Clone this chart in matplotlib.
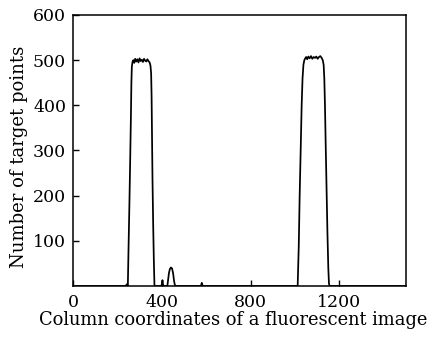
import matplotlib
matplotlib.use("Agg")
import matplotlib.pyplot as plt

# Column coordinate vs number of target points
col_x = [0, 236, 240, 243, 245, 247, 250, 254, 258, 261, 263, 265, 268, 272,
         276, 280, 285, 290, 295, 300, 305, 310, 315, 320, 325, 330, 335, 340,
         345, 349, 352, 354, 356, 358, 361, 364, 367, 370, 398, 401, 403, 405,
         408, 425, 428, 432, 436, 441, 446, 451, 455, 458, 461, 463, 575, 578,
         580, 582, 584, 600, 1012, 1017, 1021, 1026, 1030, 1034, 1038, 1042,
         1046, 1050, 1055, 1060, 1066, 1072, 1078, 1084, 1090, 1096, 1102,
         1108, 1114, 1120, 1125, 1129, 1132, 1135, 1138, 1142, 1146, 1150,
         1153, 1156, 1500]
count_y = [0, 0, 2, 4, 2, 0, 80, 180, 290, 380, 450, 485, 496, 500,
           494, 503, 497, 502, 495, 504, 498, 501, 496, 503, 499, 497, 502, 498,
           495, 488, 470, 420, 330, 240, 140, 60, 0, 0, 0, 6, 13, 4,
           0, 0, 12, 28, 37, 41, 39, 28, 12, 4, 0, 0, 0, 3,
           7, 4, 0, 0, 0, 90, 200, 310, 400, 460, 490, 500,
           504, 507, 502, 508, 504, 509, 503, 507, 505, 508, 503,
           507, 509, 505, 500, 490, 460, 400, 320, 220, 120, 40,
           5, 0, 0]

x_ticks = [0, 400, 800, 1200]
y_ticks = [100, 200, 300, 400, 500, 600]
x_label = "Column coordinates of a fluorescent image"
y_label = "Number of target points"

plt.rcParams['font.family'] = ['DejaVu Serif']
plt.rcParams['mathtext.fontset'] = 'dejavuserif'

W, H = 432, 338
fig = plt.figure(figsize=(W / 100, H / 100), dpi=100)
ax = fig.add_axes([73 / W, 1 - 286 / H, (406 - 73) / W, (286 - 15) / H])

ax.plot(col_x, count_y, color='black', linewidth=1.25)

ax.set_xlim(0, 1500)
ax.set_ylim(0, 600)
ax.set_xticks(x_ticks)
ax.set_yticks(y_ticks)
ax.tick_params(axis='x', direction='in', length=4, width=1, labelsize=12.5, pad=6)
ax.tick_params(axis='y', direction='in', length=4, width=1, labelsize=12.5, pad=5)
ax.set_xlabel(x_label, fontsize=12.9)
ax.set_ylabel(y_label, fontsize=13)
ax.xaxis.set_label_coords((233 - 73) / (406 - 73), -(320 - 286) / (286 - 15), transform=ax.transAxes)
ax.yaxis.set_label_coords(-(73 - 19) / (406 - 73), (286 - 157) / (286 - 15), transform=ax.transAxes)
ax.xaxis.label.set_va('center')
ax.yaxis.label.set_va('center')
for s in ax.spines.values():
    s.set_linewidth(1.1)

fig.savefig("out.png", dpi=100)
